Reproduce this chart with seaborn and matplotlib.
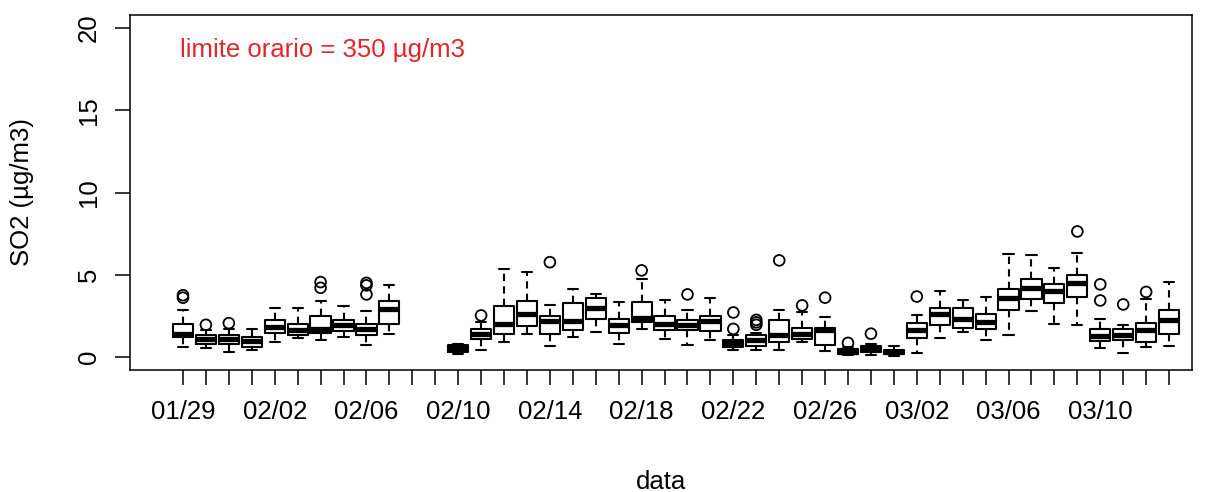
import pandas as pd
import seaborn as sns
import matplotlib.pyplot as plt

# giorni (01/29 - 03/13), 02/08 e 02/09 senza dati
dates = ['01/29', '01/30', '01/31',
         '02/01', '02/02', '02/03', '02/04', '02/05', '02/06', '02/07', '02/08', '02/09', '02/10',
         '02/11', '02/12', '02/13', '02/14', '02/15', '02/16', '02/17', '02/18', '02/19', '02/20',
         '02/21', '02/22', '02/23', '02/24', '02/25', '02/26', '02/27', '02/28',
         '03/01', '03/02', '03/03', '03/04', '03/05', '03/06', '03/07', '03/08', '03/09', '03/10',
         '03/11', '03/12', '03/13']

# statistiche dei boxplot (µg/m3)
w_low = [0.60, 0.54, 0.32, 0.44, 0.90, 1.15, 1.00, 1.21, 0.70, 1.41, None, None, 0.15,
         0.40, 0.90, 1.41, 0.64, 1.21, 1.51, 0.80, 1.71, 1.10, 0.70,
         1.00, 0.40, 0.40, 0.44, 0.90, 0.33, 0.12, 0.09,
         0.08, 0.23, 1.17, 1.51, 1.04, 1.31, 2.79, 2.02, 1.91, 0.54,
         0.23, 0.60, 0.64]
q1 = [1.20, 0.80, 0.80, 0.60, 1.45, 1.31, 1.47, 1.57, 1.31, 2.02, None, None, 0.32,
      1.10, 1.41, 1.87, 1.41, 1.61, 2.28, 1.47, 2.12, 1.61, 1.61,
      1.55, 0.62, 0.64, 0.90, 1.10, 0.70, 0.20, 0.29,
      0.15, 1.14, 1.91, 1.77, 1.71, 2.83, 3.50, 3.29, 3.67, 0.94,
      1.00, 0.90, 1.41]
med = [1.37, 1.06, 1.10, 0.96, 1.81, 1.65, 1.71, 1.91, 1.71, 2.93, None, None, 0.55,
       1.41, 2.02, 2.62, 2.18, 2.18, 2.99, 1.91, 2.38, 2.02, 1.91,
       2.18, 0.82, 1.05, 1.31, 1.41, 1.61, 0.30, 0.46,
       0.30, 1.61, 2.62, 2.28, 2.12, 3.60, 4.18, 4.00, 4.49, 1.25,
       1.35, 1.61, 2.22]
q3 = [2.00, 1.31, 1.35, 1.20, 2.22, 2.02, 2.48, 2.22, 1.98, 3.39, None, None, 0.72,
      1.71, 3.09, 3.39, 2.48, 3.27, 3.60, 2.28, 3.33, 2.48, 2.22,
      2.48, 1.00, 1.35, 2.22, 1.77, 1.77, 0.45, 0.64,
      0.42, 2.06, 2.99, 2.99, 2.58, 4.14, 4.75, 4.45, 4.95, 1.71,
      1.71, 2.06, 2.87]
w_high = [2.87, 1.65, 1.70, 1.71, 2.97, 2.97, 3.39, 3.07, 2.79, 4.35, None, None, 0.80,
          2.12, 5.36, 5.16, 3.13, 4.14, 3.80, 3.33, 4.75, 3.48, 2.87,
          3.58, 1.30, 1.45, 2.87, 2.75, 2.42, 0.60, 0.80,
          0.65, 2.56, 3.98, 3.48, 3.67, 6.27, 6.17, 5.42, 6.31, 2.28,
          1.95, 3.55, 4.55]
outliers = [[3.6, 3.75], [1.95], [2.05], [], [], [], [4.2, 4.55], [], [3.8, 4.35, 4.5], [], [], [], [],
            [2.52], [], [], [5.76], [], [], [], [5.26], [], [3.8],
            [], [1.7, 2.7], [1.95, 2.1, 2.25], [5.87], [3.13], [3.6], [0.85], [1.41],
            [], [3.67], [], [], [], [], [], [], [7.63], [3.43, 4.41],
            [3.19], [3.95], []]

# campione che riproduce le statistiche di ogni giorno
rows = []
for i in range(len(dates)):
    if w_low[i] is None:
        continue
    vals = [w_low[i]] + [q1[i]] * 8 + [med[i]] * 8 + [q3[i]] * 8 + [w_high[i]]
    rows += [(i, v) for v in vals]
df = pd.DataFrame(rows, columns=['pos', 'so2'])
fl = pd.DataFrame([(i, v) for i, f in enumerate(outliers) for v in f], columns=['pos', 'so2'])

sns.set_theme(style='ticks')
plt.rcParams['font.family'] = ['Liberation Sans', 'DejaVu Sans']
fs = 18.5

W, H = 1214, 492
fig = plt.figure(figsize=(W / 100, H / 100), dpi=100, facecolor='white')
ax = fig.add_axes([130 / W, 1 - 370 / H, (1192 - 130) / W, (370 - 15) / H])

sns.boxplot(data=df, x='pos', y='so2', orient='x', native_scale=True, whis=(0, 100),
            showfliers=False, fill=False, color='black', width=0.88, linewidth=1.5,
            medianprops=dict(linewidth=3.8, solid_capstyle='butt'),
            whiskerprops=dict(linestyle=(0, (3.5, 2.5))), ax=ax)
sns.scatterplot(data=fl, x='pos', y='so2', marker='o', s=60, facecolor='none',
                edgecolor='black', linewidth=1.3, ax=ax, zorder=3)

ax.set_xlim(-2.31, 44.0)
ax.set_ylim(-0.8, 20.8)
ax.set_xticks(range(len(dates)))
ax.set_xticklabels([d if i % 4 == 0 else '' for i, d in enumerate(dates)])
ax.set_yticks([0, 5, 10, 15, 20])
ax.set_yticklabels(['0', '5', '10', '15', '20'], rotation=90, va='center')
ax.tick_params(axis='both', length=10.8, width=1.1, labelsize=fs, colors='black', direction='out')
ax.tick_params(axis='x', pad=11)
ax.tick_params(axis='y', pad=10)
for sp in ax.spines.values():
    sp.set_color('black')
    sp.set_linewidth(1.1)

ax.text(-0.13, 18.64, 'limite orario = 350 µg/m3', color='#e3262b', fontsize=fs, ha='left', va='center')

ax.set_xlabel('data', fontsize=fs, color='black')
ax.set_ylabel('SO2 (µg/m3)', fontsize=fs, color='black')
ax.xaxis.label.set_va('center')
ax.xaxis.set_label_coords(0.5, -(482 - 370) / 355)
ax.yaxis.label.set_va('center')
ax.yaxis.set_label_coords((22 - 130) / 1062, 0.5)

fig.savefig('out.png', dpi=100)
plt.close()
